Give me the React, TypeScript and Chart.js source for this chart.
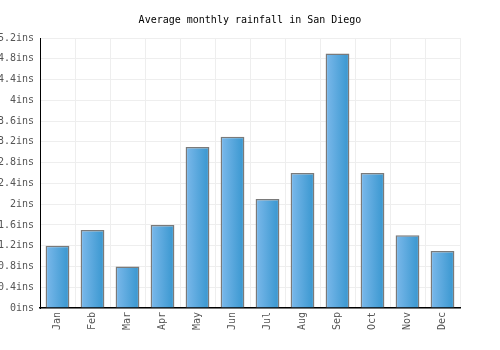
import React, { useEffect, useRef } from "react";
import { Chart, registerables } from "chart.js";

Chart.register(...registerables);

const months = ["Jan", "Feb", "Mar", "Apr", "May", "Jun", "Jul", "Aug", "Sep", "Oct", "Nov", "Dec"];
const rainfall = [1.2, 1.5, 0.8, 1.6, 3.1, 3.3, 2.1, 2.6, 4.9, 2.6, 1.4, 1.1];
const yMax = 5.2;
const yStep = 0.4;
const unit = "ins";
const titleText = "Average monthly rainfall in San Diego";
const barPct = 0.68;

function barGradient(ctx: any) {
  const chart = ctx.chart;
  const xs = chart.scales && chart.scales.x;
  const area = chart.chartArea;
  if (!xs || !area || ctx.dataIndex === undefined) return "#5aa8de";
  const cx = xs.getPixelForValue(ctx.dataIndex);
  const w = (area.width / months.length) * barPct;
  if (!isFinite(cx) || !isFinite(w)) return "#5aa8de";
  const g = chart.ctx.createLinearGradient(cx - w / 2, 0, cx + w / 2, 0);
  g.addColorStop(0, "#7cb9eb");
  g.addColorStop(1, "#3796cf");
  return g;
}

export default function App() {
  const ref = useRef<HTMLCanvasElement>(null);
  useEffect(() => {
    const font = "'DejaVu Sans Mono', monospace";
    const chart = new Chart(ref.current!, {
      type: "bar",
      data: {
        labels: months,
        datasets: [
          {
            data: rainfall,
            backgroundColor: barGradient,
            borderColor: "#7a7a7a",
            borderWidth: 1.5,
            borderSkipped: "bottom",
            categoryPercentage: 1,
            barPercentage: barPct,
          },
        ],
      },
      options: {
        animation: false,
        responsive: true,
        maintainAspectRatio: false,
        layout: { padding: 0 },
        plugins: {
          legend: { display: false },
          tooltip: { enabled: false },
          title: {
            display: true,
            text: titleText,
            color: "#000",
            font: { family: font, size: 10, weight: "normal", lineHeight: 1.2 },
            padding: { top: 14, bottom: 12 },
          },
        },
        scales: {
          x: {
            grid: { color: "#eeeeee", drawTicks: false, offset: true },
            border: { color: "#000", width: 1.5 },
            ticks: {
              color: "#555",
              font: { family: font, size: 10 },
              minRotation: 90,
              maxRotation: 90,
              padding: 4,
            },
            afterFit: (s: any) => {
              s.height = 42;
            },
          },
          y: {
            min: 0,
            max: yMax,
            grid: { color: "#eeeeee", drawTicks: false },
            border: { color: "#000", width: 1 },
            ticks: {
              stepSize: yStep,
              color: "#555",
              font: { family: font, size: 10 },
              padding: 6,
              callback: (v: any) => `${Number(Number(v).toFixed(1))}${unit}`,
            },
            afterFit: (s: any) => {
              s.width = 40;
            },
          },
          yR: {
            position: "right",
            display: true,
            min: 0,
            max: yMax,
            grid: { display: false, drawOnChartArea: false },
            border: { display: false },
            ticks: { display: false },
            afterFit: (s: any) => {
              s.width = 40;
            },
          },
        },
      },
    });
    return () => chart.destroy();
  }, []);
  return (
    <div style={{ position: "absolute", left: 0, top: 0, width: 500, height: 350, background: "#fff" }}>
      <canvas ref={ref} />
    </div>
  );
}
